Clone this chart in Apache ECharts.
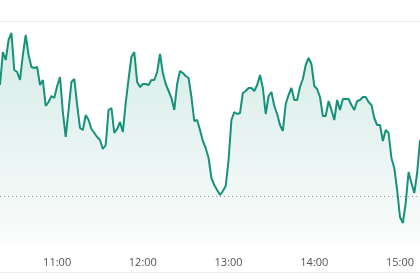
<!DOCTYPE html>
<html><head><meta charset="utf-8">
<script src="https://cdn.jsdelivr.net/npm/echarts@6/dist/echarts.min.js"></script>
<style>html,body{margin:0;padding:0;background:#fff}#c{width:420px;height:280px}</style>
</head><body><div id="c"></div>
<script>
// time categories, 2-minute steps from 10:20 to 15:14
const startMinute = 10*60+20;
const stepMinutes = 2;
const hourLabels = ["11:00","12:00","13:00","14:00","15:00"];
const prevClose = 100;
const prices = [
105.55,107.20,106.80,107.80,108.15,106.30,106.20,105.80,107.05,108.05,
107.05,106.45,106.40,106.45,105.55,105.80,104.50,104.70,105.00,104.90,
105.50,105.95,104.20,102.95,104.30,105.70,105.85,104.55,103.40,103.30,
104.05,103.80,103.35,103.15,102.95,102.80,102.35,102.55,104.30,104.40,
103.15,103.35,103.70,103.20,104.65,105.85,106.95,107.20,105.70,105.45,
105.60,105.60,105.55,105.80,105.80,106.20,107.10,106.15,105.60,105.25,
104.90,104.30,105.60,106.25,106.15,106.00,105.90,104.95,103.75,103.80,
103.30,102.75,102.40,101.90,100.90,100.55,100.30,100.05,100.25,100.50,
101.80,103.80,104.20,104.10,104.15,105.15,105.25,105.40,105.40,105.25,
105.55,106.05,105.40,104.10,105.00,105.20,104.50,104.10,103.55,103.25,
104.60,105.05,105.40,104.80,104.80,105.45,105.85,106.55,106.90,106.60,
105.50,105.35,104.95,104.00,104.00,104.75,104.30,103.80,104.80,104.30,
104.85,104.85,104.85,104.55,104.30,104.75,104.80,104.95,104.95,104.70,
104.55,103.90,103.55,103.55,102.75,103.30,103.15,101.90,101.40,100.30,
98.95,98.65,99.65,101.20,100.65,100.15,101.15,102.80
];
const times = prices.map((_, i) => {
  const m = startMinute + i*stepMinutes;
  return String(Math.floor(m/60)).padStart(2,'0') + ':' + String(m%60).padStart(2,'0');
});
const yMin = 97.65, yMax = 108.75;
const lineColor = '#17927a';

const chart = echarts.init(document.getElementById('c'), null, {renderer:'canvas'});
chart.setOption({
  animation: false,
  grid: {left: 0, right: 0, top: 21, bottom: 37},
  xAxis: {
    type: 'category', data: times, boundaryGap: false,
    axisLine: {show: false}, axisTick: {show: false},
    axisLabel: {
      interval: (idx, val) => hourLabels.includes(val),
      color: '#555555', fontSize: 11, margin: 14,
      fontFamily: 'Open Sans, sans-serif'
    },
    splitLine: {show: false}
  },
  yAxis: {
    type: 'value', min: yMin, max: yMax, show: false,
    splitLine: {show: false}
  },
  graphic: [
    {type: 'line', shape: {x1: 0, y1: 21.5, x2: 420, y2: 21.5}, style: {stroke: '#ebebeb', lineWidth: 1}, silent: true},
    {type: 'line', shape: {x1: 0, y1: 272.5, x2: 420, y2: 272.5}, style: {stroke: '#ebebeb', lineWidth: 1}, silent: true}
  ],
  series: [{
    type: 'line', data: prices, symbol: 'none', smooth: false,
    lineStyle: {color: lineColor, width: 2},
    areaStyle: {
      color: new echarts.graphic.LinearGradient(0, 0, 0, 1, [
        {offset: 0, color: 'rgba(23,146,122,0.26)'},
        {offset: 1, color: 'rgba(23,146,122,0.03)'}
      ])
    },
    markLine: {
      silent: true, symbol: 'none', label: {show: false},
      lineStyle: {color: '#9a9a9a', type: [1, 3], width: 1},
      data: [{yAxis: prevClose}]
    }
  }]
});
</script></body></html>
